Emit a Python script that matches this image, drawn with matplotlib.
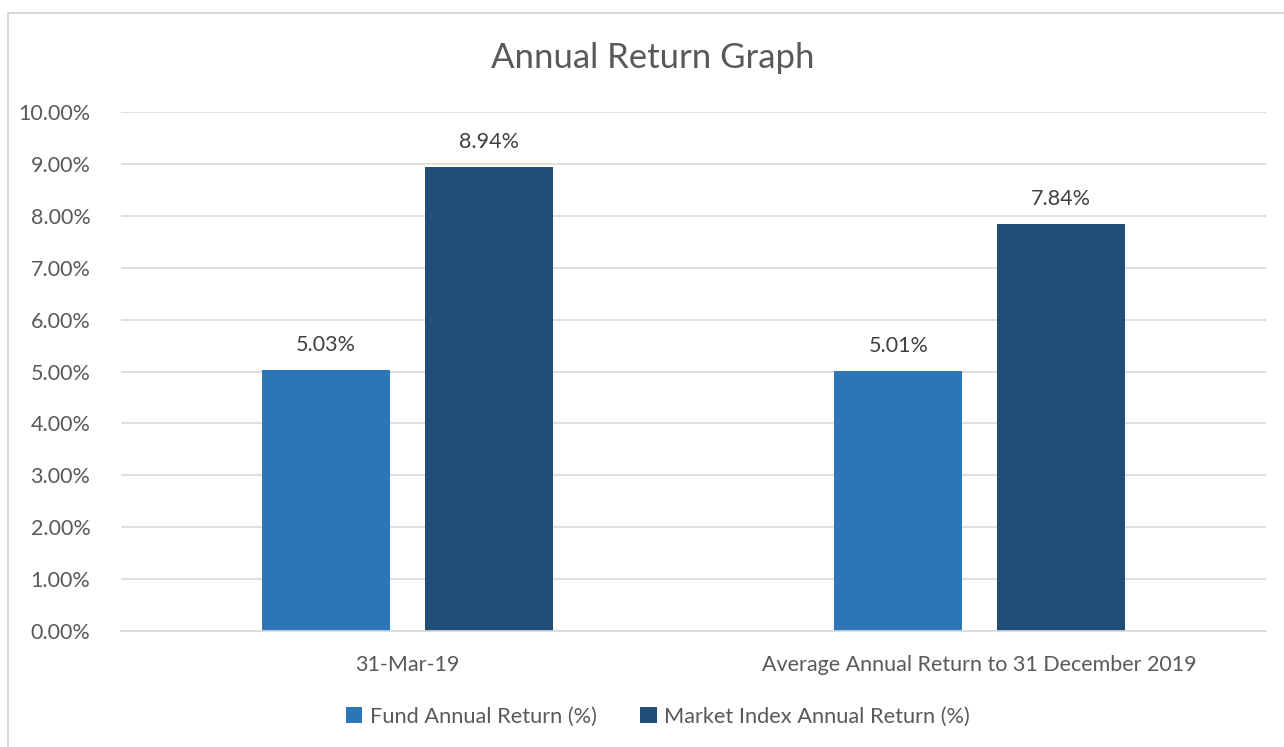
import matplotlib.pyplot as plt
import numpy as np
from matplotlib.patches import Rectangle
from matplotlib.ticker import FuncFormatter

plt.rcParams['font.family'] = ['Lato', 'DejaVu Sans']

categories = ['31-Mar-19', 'Average Annual Return to 31 December 2019']
fund = [5.03, 5.01]
market = [8.94, 7.84]
series_names = ['Fund Annual Return (%)', 'Market Index Annual Return (%)']
colors = ['#2E75B6', '#1F4E79']
text_color = '#595959'

fig = plt.figure(figsize=(12.84, 7.47), dpi=100)
# chart border
fig.patches.append(Rectangle((8 / 1284, -0.01), 1.1, 1 - 13 / 747 + 0.01,
                             transform=fig.transFigure, fill=False,
                             edgecolor='#D9D9D9', lw=1.5))

ax = fig.add_axes([121 / 1284, 1 - 631 / 747, (1266 - 121) / 1284, (631 - 112) / 747])

x = np.arange(len(categories))
w = 0.2236
off = 0.1424
b1 = ax.bar(x - off, fund, w, color=colors[0], label=series_names[0])
b2 = ax.bar(x + off, market, w, color=colors[1], label=series_names[1])

for bars in (b1, b2):
    for r in bars:
        ax.annotate('%.2f%%' % r.get_height(), (r.get_x() + r.get_width() / 2, r.get_height()),
                    xytext=(0, 11), textcoords='offset points', ha='center', va='bottom',
                    fontsize=15.5, color='#404040')

ax.set_xlim(-0.5, 1.5)
ax.set_ylim(0, 10)
ax.set_yticks(np.arange(0, 11, 1))
ax.yaxis.set_major_formatter(FuncFormatter(lambda v, p: '%.2f%%' % v))
ax.set_xticks(x)
ax.set_xticklabels(categories)
ax.tick_params(axis='both', length=0, labelsize=15.5, labelcolor=text_color)
ax.tick_params(axis='y', pad=22)
ax.tick_params(axis='x', pad=17)
ax.grid(axis='y', color='#D9D9D9', lw=1.2)
ax.set_axisbelow(True)
for s in ['top', 'right', 'left']:
    ax.spines[s].set_visible(False)
ax.spines['bottom'].set_color('#D9D9D9')
ax.spines['bottom'].set_linewidth(1.2)

fig.text(653 / 1284, 1 - 58 / 747, 'Annual Return Graph', ha='center', va='center',
         fontsize=25, color=text_color)

fig.legend(loc='center', bbox_to_anchor=(658 / 1284, 1 - 717 / 747), ncol=2, frameon=False,
           fontsize=15.7, labelcolor=text_color, handlelength=0.75, handleheight=0.75,
           handletextpad=0.35, columnspacing=2.0)

fig.savefig('out.png', dpi=100)
